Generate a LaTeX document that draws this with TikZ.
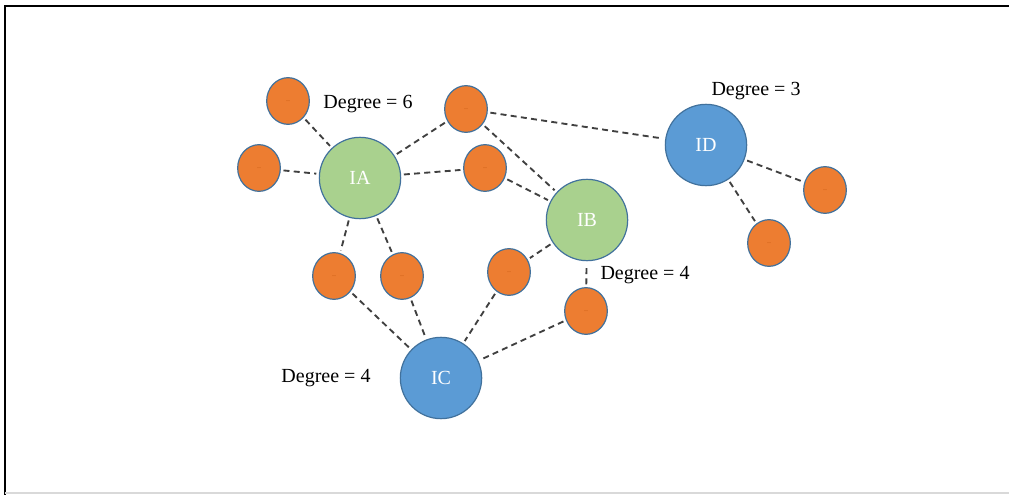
\documentclass[tikz,border=0pt]{standalone}
\usepackage{fontspec}
\setmainfont{Liberation Serif}
\usetikzlibrary{shapes.geometric}
\definecolor{leaf}{HTML}{ED7D31}
\definecolor{leafdot}{HTML}{C55A11}
\definecolor{hubgreen}{HTML}{A9D18E}
\definecolor{hubblue}{HTML}{5B9BD5}
\definecolor{rim}{HTML}{41719C}
\definecolor{link}{HTML}{404040}
\tikzset{
  leafnode/.style={ellipse, draw=rim, line width=0.9pt, fill=leaf,
    minimum width=32pt, minimum height=35pt, inner sep=0pt,
    text=leafdot, font=\fontsize{6}{6}\selectfont},
  hub/.style={circle, draw=rim, line width=0.9pt, minimum size=61pt,
    inner sep=0pt, text=white, font=\fontsize{15}{18}\selectfont},
  greenhub/.style={hub, fill=hubgreen},
  bluehub/.style={hub, fill=hubblue},
  link/.style={draw=link, line width=1.4pt, dash pattern=on 4.5pt off 3.2pt,
    shorten <=2pt, shorten >=2pt},
  degree/.style={font=\fontsize{15}{18}\selectfont, inner sep=0pt}
}
\begin{document}
\begin{tikzpicture}[x=0.75pt, y=-0.75pt]
  \useasboundingbox (0,0) rectangle (1009,495);
  % frame
  \draw[black, line width=1.3pt] (5,495) -- (5,6) -- (1009,6);
  \draw[gray!30, line width=0.8pt] (5,493) -- (1009,493);

  % hubs
  \node[greenhub] (IA) at (360,178) {IA};
  \node[greenhub] (IB) at (587,220) {IB};
  \node[bluehub]  (IC) at (441,378) {IC};
  \node[bluehub]  (ID) at (706,145) {ID};

  % leaves
  \node[leafnode] (o1)  at (288,101) {..};
  \node[leafnode] (o2)  at (259,168) {..};
  \node[leafnode] (o3)  at (466,109) {..};
  \node[leafnode] (o4)  at (485,168) {..};
  \node[leafnode] (o5)  at (334,276) {..};
  \node[leafnode] (o6)  at (402,276) {..};
  \node[leafnode] (o7)  at (509,272) {..};
  \node[leafnode] (o8)  at (586,311) {..};
  \node[leafnode] (o9)  at (825,190) {..};
  \node[leafnode] (o10) at (769,243) {..};

  % degree labels
  \node[degree] (dA) at (368,104) {Degree = 6};
  \node[degree] (dD) at (756,91)  {Degree = 3};
  \node[degree] (dB) at (645,275) {Degree = 4};
  \node[degree] (dC) at (326,378) {Degree = 4};

  % connections
  \foreach \a/\b in {o1/IA, o2/IA, IA/o3, IA/o4, IA/o5, IA/o6,
                     o3/ID, o3/IB, o4/IB, IB/o7, o8/IB,
                     ID/o9, ID/o10, o5/IC, o6/IC, o7/IC, o8/IC}
    \draw[link] (\a) -- (\b);
\end{tikzpicture}
\end{document}
